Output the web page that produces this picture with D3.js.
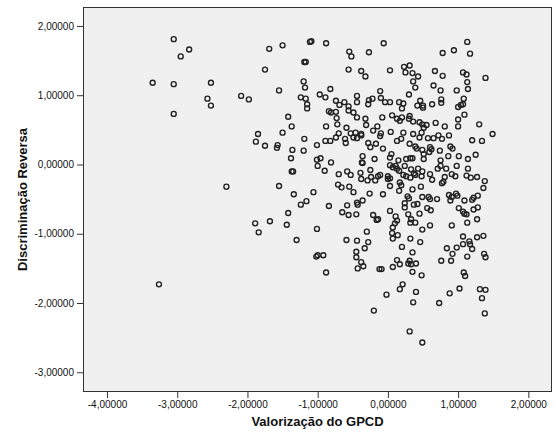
<!DOCTYPE html>
<html>
<head>
<meta charset="utf-8">
<script src="https://cdn.jsdelivr.net/npm/d3@7"></script>
<style>
  body { margin: 0; background: #fff; }
  text { font-family: "Liberation Sans", Arial, sans-serif; }
</style>
</head>
<body>
<svg id="chart" width="555" height="439"></svg>
<script>
// Axis ticks
const xTicks = [-4, -3, -2, -1, 0, 1, 2];
const yTicks = [2, 1, 0, -1, -2, -3];

// Scores: Valorização do GPCD (x) and Discriminação Reversa (y), one entry per respondent
const valorizacao = [
  -3.05,-2.83,-2.95,-3.35,-3.05,-2.52,-2.57,-2.52,-3.05,-2.09,
  -1.98,-1.69,-1.75,-1.55,-1.85,-1.88,-1.75,-1.57,-1.58,-2.30,
  -1.55,-1.89,-1.68,-1.84,-3.26,
  -1.50,-1.11,-1.09,-0.88,-0.55,-0.52,-0.27,-1.19,-1.17,-0.56,
  -0.38,-0.32,-1.20,-1.18,-0.82,-0.97,-0.89,-1.24,-1.17,-1.15,
  -1.15,-0.74,-0.69,-0.62,-0.44,-0.44,-0.56,-0.56,-0.49,-0.27,
  -0.22,-0.11,-0.28,-0.84,-0.81,-0.74,-0.73,-0.44,-0.32,-1.42,
  -1.37,-0.88,-0.72,-0.59,-0.31,-0.21,-0.15,-1.50,-0.70,-0.53,
  -0.46,-0.38,
  -0.06,1.13,0.78,0.94,1.17,0.03,0.23,0.31,0.25,0.35,
  0.43,0.36,0.39,0.67,0.78,1.07,1.12,1.13,1.39,0.65,
  0.75,0.98,1.14,0.30,-0.10,-0.04,0.03,0.16,0.22,0.20,
  0.46,0.42,0.50,0.50,0.63,0.76,0.76,1.00,1.04,1.08,
  1.07,-0.08,0.06,0.13,0.17,0.20,0.31,0.30,0.36,0.45,
  0.49,0.51,0.55,0.68,0.81,1.00,1.09,1.00,1.30,-0.10,
  0.04,0.22,0.36,0.48,0.72,0.87,1.49,
  -1.19,-1.36,-1.20,-1.01,-0.89,-0.82,-0.74,-0.61,-0.60,-0.49,
  -0.44,-0.38,-0.28,-0.25,-0.17,-1.38,-1.37,-1.35,-1.01,-0.96,
  -1.00,-0.81,-0.90,-0.70,-0.58,-0.53,-0.36,-0.37,-0.36,-0.19,
  -0.25,-0.39,-0.38,-0.29,-0.24,-0.18,-0.14,-0.71,-0.66,-0.55,
  -0.49,-1.06,-1.34,-1.16,-1.24,-0.84,-0.58,-0.44,-0.43,-0.36,
  -0.26,-1.42,-1.44,-0.65,-0.56,-0.45,-0.21,-0.16,-1.01,-0.30,
  -1.30,-0.59,-0.44,-0.28,
  -0.33,-1.02,-1.00,-0.92,-0.45,-0.45,-0.38,-0.35,-0.43,-0.88,-0.12,-0.20,
  -0.11,0.13,0.19,0.45,0.57,0.65,0.77,1.20,1.34,0.31,
  0.39,0.41,0.49,0.60,0.62,0.51,0.59,0.74,0.89,0.92,
  -0.07,0.05,0.03,0.15,0.26,0.32,0.35,0.51,0.75,0.86,
  1.01,1.14,1.25,0.03,0.11,0.07,0.13,0.24,0.16,0.22,
  0.33,0.37,0.43,0.39,0.32,0.26,0.48,0.49,0.60,0.63,
  0.71,0.75,0.83,0.81,0.91,0.96,0.98,1.14,1.12,1.18,
  1.27,1.38,0.00,0.00,0.03,-0.11,0.17,0.19,0.03,0.35,
  0.47,0.77,0.79,-0.07,0.16,0.28,0.30,0.24,0.24,0.49,
  0.58,0.60,0.70,0.87,0.91,0.97,0.99,0.89,1.09,1.20,
  1.22,1.28,1.36,0.37,0.42,0.56,0.61,0.45,0.03,0.29,
  1.01,1.07,1.09,1.12,1.22,1.28,0.11,0.13,0.10,0.07,
  0.33,0.32,0.39,0.60,0.91,1.13,1.27,0.06,0.14,0.07,
  0.32,0.49,1.07,1.27,1.36,-0.14,0.46,1.16,
  0.20,0.35,0.13,0.17,0.31,0.29,0.33,0.40,0.07,-0.09,
  0.35,0.48,0.84,0.98,1.07,1.17,1.20,0.92,1.13,0.76,
  0.90,1.37,1.39,1.08,1.10,0.21,0.17,-0.02,0.40,0.36,
  0.88,1.02,0.73,1.31,1.39,1.34,1.38,0.31,0.49
];

const discriminacao = [
  1.81,1.66,1.56,1.18,1.16,1.18,0.95,0.85,0.73,0.99,
  0.94,1.67,1.37,1.07,0.44,0.33,0.27,0.28,0.24,-0.32,
  -0.31,-0.85,-0.82,-0.98,-1.73,
  1.72,1.77,1.78,1.75,1.63,1.56,1.62,1.48,1.48,1.37,
  1.35,1.27,1.20,1.11,1.09,1.01,0.97,0.97,0.95,0.87,
  0.81,0.92,0.86,0.90,0.99,0.90,0.84,0.78,0.75,0.93,
  0.95,1.06,0.87,0.77,0.75,0.76,0.67,0.68,0.66,0.69,
  0.55,0.55,0.58,0.53,0.57,0.49,0.55,0.46,0.45,0.45,
  0.46,0.44,
  1.75,1.77,1.61,1.65,1.60,1.36,1.41,1.43,1.33,1.32,
  1.27,1.20,1.11,1.35,1.28,1.33,1.30,1.19,1.25,1.14,
  1.07,1.07,1.09,1.01,0.96,0.90,0.90,0.90,0.88,0.81,
  0.92,0.85,0.85,0.82,0.87,0.94,0.89,0.83,0.86,0.95,
  0.87,0.68,0.71,0.66,0.63,0.68,0.70,0.66,0.62,0.61,
  0.58,0.53,0.57,0.60,0.55,0.65,0.72,0.55,0.58,0.45,
  0.47,0.46,0.44,0.46,0.42,0.42,0.44,
  0.37,0.21,0.20,0.28,0.34,0.34,0.39,0.37,0.31,0.39,
  0.38,0.42,0.31,0.25,0.30,0.09,-0.10,-0.10,0.07,0.09,
  -0.02,0.03,-0.09,-0.14,-0.10,-0.15,0.12,0.03,0.02,0.08,
  -0.08,-0.12,-0.21,-0.23,-0.18,-0.23,-0.17,-0.29,-0.33,-0.32,
  -0.40,-0.40,-0.43,-0.53,-0.58,-0.60,-0.59,-0.55,-0.58,-0.52,
  -0.42,-0.70,-0.87,-0.69,-0.73,-0.72,-0.73,-0.80,-0.93,-0.97,
  -1.09,-1.09,-1.10,-1.12,
  -1.21,-1.33,-1.31,-1.31,-1.26,-1.34,-1.41,-1.47,-1.50,-1.56,-1.51,-2.11,
  0.41,0.34,0.37,0.39,0.38,0.38,0.37,0.35,0.34,0.30,
  0.26,0.23,0.21,0.25,0.22,0.15,0.18,0.20,0.26,0.23,
  0.23,0.15,0.10,0.06,0.08,0.09,0.09,0.08,0.06,0.12,
  0.12,0.08,0.14,-0.01,-0.02,-0.04,-0.06,-0.02,-0.09,-0.15,
  -0.07,-0.13,-0.06,-0.15,-0.19,-0.17,-0.17,-0.10,-0.14,-0.22,
  -0.06,-0.02,-0.06,-0.18,-0.14,-0.17,-0.02,-0.06,-0.16,-0.19,
  -0.18,-0.24,-0.17,-0.21,-0.20,-0.15,-0.26,-0.30,-0.31,-0.36,
  -0.32,-0.27,-0.25,-0.43,-0.38,-0.46,-0.49,-0.56,-0.62,-0.47,
  -0.47,-0.50,-0.50,-0.44,-0.47,-0.42,-0.45,-0.52,-0.52,-0.51,
  -0.48,-0.45,-0.34,-0.58,-0.57,-0.63,-0.66,-0.71,-0.67,-0.72,
  -0.63,-0.68,-0.71,-0.72,-0.65,-0.62,-0.75,-0.81,-0.85,-0.91,
  -0.79,-0.84,-0.84,-0.88,-0.88,-0.84,-0.79,-0.99,-1.02,-1.07,
  -1.07,-0.94,-1.04,-1.05,-1.03,-0.79,-1.12,-1.11,
  -1.19,-1.27,-1.38,-1.44,-1.39,-1.43,-1.44,-1.43,-1.48,-1.51,
  -1.55,-1.60,-1.21,-1.20,-1.15,-1.15,-1.22,-1.29,-1.33,-1.39,
  -1.39,-1.29,-1.34,-1.56,-1.61,-1.73,-1.80,-1.88,-1.84,-1.99,
  -1.86,-1.79,-2.00,-1.80,-1.81,-1.93,-2.15,-2.41,-2.57
];

const points = valorizacao.map((v, i) => ({ x: v, y: discriminacao[i] }));

const svg = d3.select("#chart");
const box = { left: 83, right: 552, top: 7, bottom: 392 };

const x = d3.scaleLinear().domain([-4.342, 2.337]).range([box.left, box.right]);
const y = d3.scaleLinear().domain([-3.285, 2.274]).range([box.bottom, box.top]);

// Portuguese-style decimal labels, five places, plain hyphen for negatives
const fmt = v => d3.format(".5f")(v).replace(".", ",").replace("\u2212", "-");

// Plot area
svg.append("rect")
  .attr("x", box.left + 0.5).attr("y", box.top + 0.5)
  .attr("width", box.right - box.left - 1).attr("height", box.bottom - box.top - 1)
  .attr("fill", "#f0f0f0").attr("stroke", "#333").attr("stroke-width", 1);

// Axes
const xAxis = svg.append("g")
  .attr("transform", `translate(0,${box.bottom})`)
  .call(d3.axisBottom(x).tickValues(xTicks).tickFormat(fmt).tickSize(6).tickPadding(3));
const yAxis = svg.append("g")
  .attr("transform", `translate(${box.left},0)`)
  .call(d3.axisLeft(y).tickValues(yTicks).tickFormat(fmt).tickSize(6).tickPadding(3));

[xAxis, yAxis].forEach(g => {
  g.select(".domain").remove();
  g.selectAll(".tick line").attr("stroke", "#333");
  g.selectAll(".tick text")
    .attr("fill", "#111")
    .style("font-family", "'Liberation Sans', Arial, sans-serif")
    .style("font-size", "10px");
});

// Points
svg.append("g")
  .selectAll("circle")
  .data(points)
  .join("circle")
  .attr("cx", d => x(d.x))
  .attr("cy", d => y(d.y))
  .attr("r", 2.5)
  .attr("fill", "none")
  .attr("stroke", "#222")
  .attr("stroke-width", 1.35);

// Axis titles
svg.append("text")
  .attr("x", (box.left + box.right) / 2).attr("y", 426)
  .attr("text-anchor", "middle")
  .style("font-size", "13px").style("font-weight", "bold").attr("fill", "#111")
  .text("Valorização do GPCD");

svg.append("text")
  .attr("transform", `translate(27,${(box.top + box.bottom) / 2}) rotate(-90)`)
  .attr("text-anchor", "middle")
  .style("font-size", "13px").style("font-weight", "bold").attr("fill", "#111")
  .text("Discriminação Reversa");
</script>
</body>
</html>
